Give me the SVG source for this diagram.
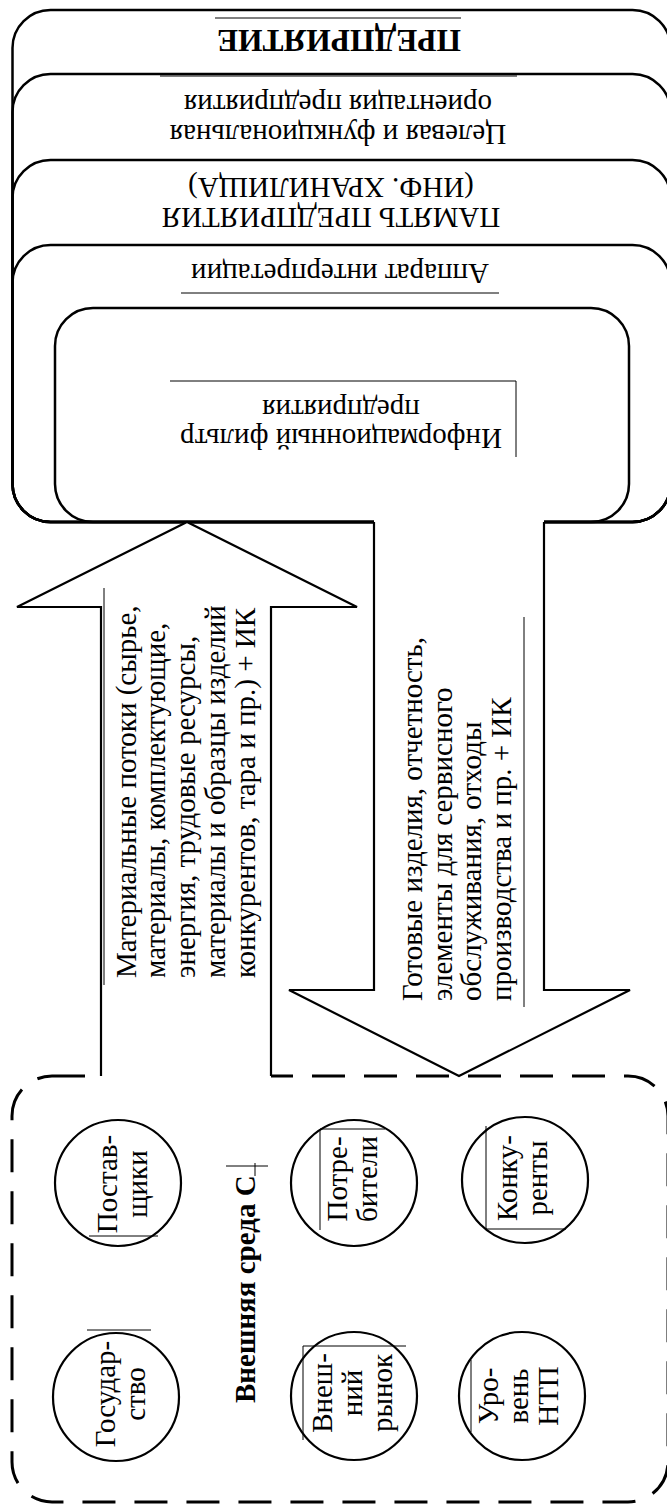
<svg xmlns="http://www.w3.org/2000/svg" width="667" height="1504" viewBox="0 0 667 1504">
<style>
.frame{fill:none;stroke:#000;stroke-width:2.5}
.arrow{fill:#fff;stroke:none}
.aline{fill:none;stroke:#000;stroke-width:2.2;stroke-linejoin:miter}
.env{fill:none;stroke:#000;stroke-width:3;stroke-dasharray:33 19}
.circ{fill:#fff;stroke:#000;stroke-width:2.2}
.thin{fill:none;stroke:#000;stroke-width:1}
text{font-family:"Liberation Serif","Times New Roman",serif;font-size:29px;fill:#000}
.b{font-weight:bold}
.m{text-anchor:middle}
.title{font-size:31.5px}
</style>
<g id="enterprise">
<rect class="frame" x="12.5" y="10" width="658" height="512" rx="38" ry="38"/>
<text class="b m title" transform="translate(339,30) rotate(180)">ПРЕДПРИЯТИЕ</text>
<line class="thin" x1="215" y1="18" x2="461" y2="18"/>
</g>
<g id="orientation">
<rect class="frame" x="12.5" y="74" width="658" height="448" rx="38" ry="38"/>
<g transform="translate(338,125) rotate(180)">
<text class="m" x="0" y="0">Целевая и функциональная</text>
<text class="m" x="0" y="30">ориентация предприятия</text>
</g>
<line class="thin" x1="160" y1="76" x2="517" y2="76"/>
</g>
<g id="memory">
<rect class="frame" x="12.5" y="160" width="658" height="362" rx="38" ry="38"/>
<g transform="translate(331,208) rotate(180)">
<text class="m" x="0" y="0">ПАМЯТЬ ПРЕДПРИЯТИЯ</text>
<text class="m" x="0" y="30">(ИНФ. ХРАНИЛИЩА)</text>
</g>
</g>
<g id="interpretation">
<rect class="frame" x="12.5" y="245" width="658" height="277" rx="38" ry="38"/>
<text class="m" transform="translate(340,264) rotate(180)">Аппарат интерпретации</text>
<line class="thin" x1="181" y1="293" x2="499" y2="293"/>
</g>
<g id="filter">
<rect class="frame" x="55" y="308" width="574" height="214" rx="38" ry="38"/>
<g transform="translate(341,429) rotate(180)">
<text class="m" x="0" y="0">Информационный фильтр</text>
<text class="m" x="0" y="29">предприятия</text>
</g>
<path class="thin" d="M170,381 H516 V457"/>
</g>
<g id="environment">
<rect class="env" x="12" y="1076" width="656" height="426" rx="40" ry="40"/>
<text class="b" transform="translate(255,1403) rotate(-90)">Внешняя среда С</text>
<path class="thin" d="M226,1166 H268 M255,1163 V1176"/>
</g>
<g id="connectors">
<g id="inflow">
<polygon class="arrow" points="187,522 17,607 101,607 101,1078 271,1078 271,607 357,607"/>
<path class="aline" d="M101,1076 V607 H17 L187,522 L357,607 H271 V1076"/>
<g transform="translate(135.5,978) rotate(-90)">
<text x="0" y="0">Материальные потоки (сырье,</text>
<text x="0" y="29.8">материалы, комплектующие,</text>
<text x="0" y="59.6">энергия, трудовые ресурсы,</text>
<text x="0" y="89.4">материалы и образцы изделий</text>
<text x="0" y="119.2">конкурентов, тара и пр.) + ИК</text>
</g>
<line class="thin" x1="104" y1="588" x2="104" y2="985"/>
</g>
<g id="outflow">
<polygon class="arrow" points="374,518 374,990 289,990 459,1076 630,990 544,990 544,518"/>
<path class="aline" d="M374,522 V990 H289 L459,1076 L630,990 H544 V522"/>
<g transform="translate(422,1001) rotate(-90)">
<text x="0" y="0">Готовые изделия, отчетность,</text>
<text x="0" y="29.7">элементы для сервисного</text>
<text x="0" y="59.4">обслуживания, отходы</text>
<text x="0" y="89.1">производства и пр. + ИК</text>
</g>
<line class="thin" x1="524" y1="617" x2="524" y2="1007"/>
</g>
</g>
<g id="suppliers">
<ellipse class="circ" cx="118" cy="1183" rx="63" ry="63"/>
<g transform="translate(117,1184) rotate(-90)">
<text class="m" x="0" y="0">Постав-</text>
<text class="m" x="0" y="30">щики</text>
</g>
<line class="thin" x1="89" y1="1236" x2="158" y2="1236"/>
</g>
<g id="consumers">
<ellipse class="circ" cx="354" cy="1183" rx="63" ry="63"/>
<g transform="translate(347,1179) rotate(-90)">
<text class="m" x="0" y="0">Потре-</text>
<text class="m" x="0" y="30">бители</text>
</g>
<path class="thin" d="M385,1129 H320 V1230"/>
</g>
<g id="competitors">
<ellipse class="circ" cx="525" cy="1180" rx="63" ry="63"/>
<g transform="translate(517,1178) rotate(-90)">
<text class="m" x="0" y="0">Конку-</text>
<text class="m" x="0" y="30">ренты</text>
</g>
<path class="thin" d="M486,1126 V1229 H566"/>
</g>
<g id="state">
<ellipse class="circ" cx="116" cy="1397" rx="63" ry="64"/>
<g transform="translate(115,1394) rotate(-90)">
<text class="m" x="0" y="0">Государ-</text>
<text class="m" x="0" y="30">ство</text>
</g>
<line class="thin" x1="87" y1="1330" x2="151" y2="1330"/>
</g>
<g id="foreign-market">
<ellipse class="circ" cx="354" cy="1396" rx="63" ry="64"/>
<g transform="translate(332,1393) rotate(-90)">
<text class="m" x="0" y="0">Внеш-</text>
<text class="m" x="0" y="30">ний</text>
<text class="m" x="0" y="60">рынок</text>
</g>
<path class="thin" d="M406,1346 H303 V1440"/>
</g>
<g id="ntp-level">
<ellipse class="circ" cx="522" cy="1396" rx="63" ry="64"/>
<g transform="translate(498,1396) rotate(-90)">
<text class="m" x="0" y="0">Уро-</text>
<text class="m" x="0" y="30">вень</text>
<text class="m" x="0" y="60">НТП</text>
</g>
<line class="thin" x1="471" y1="1360" x2="471" y2="1432"/>
</g>
</svg>
